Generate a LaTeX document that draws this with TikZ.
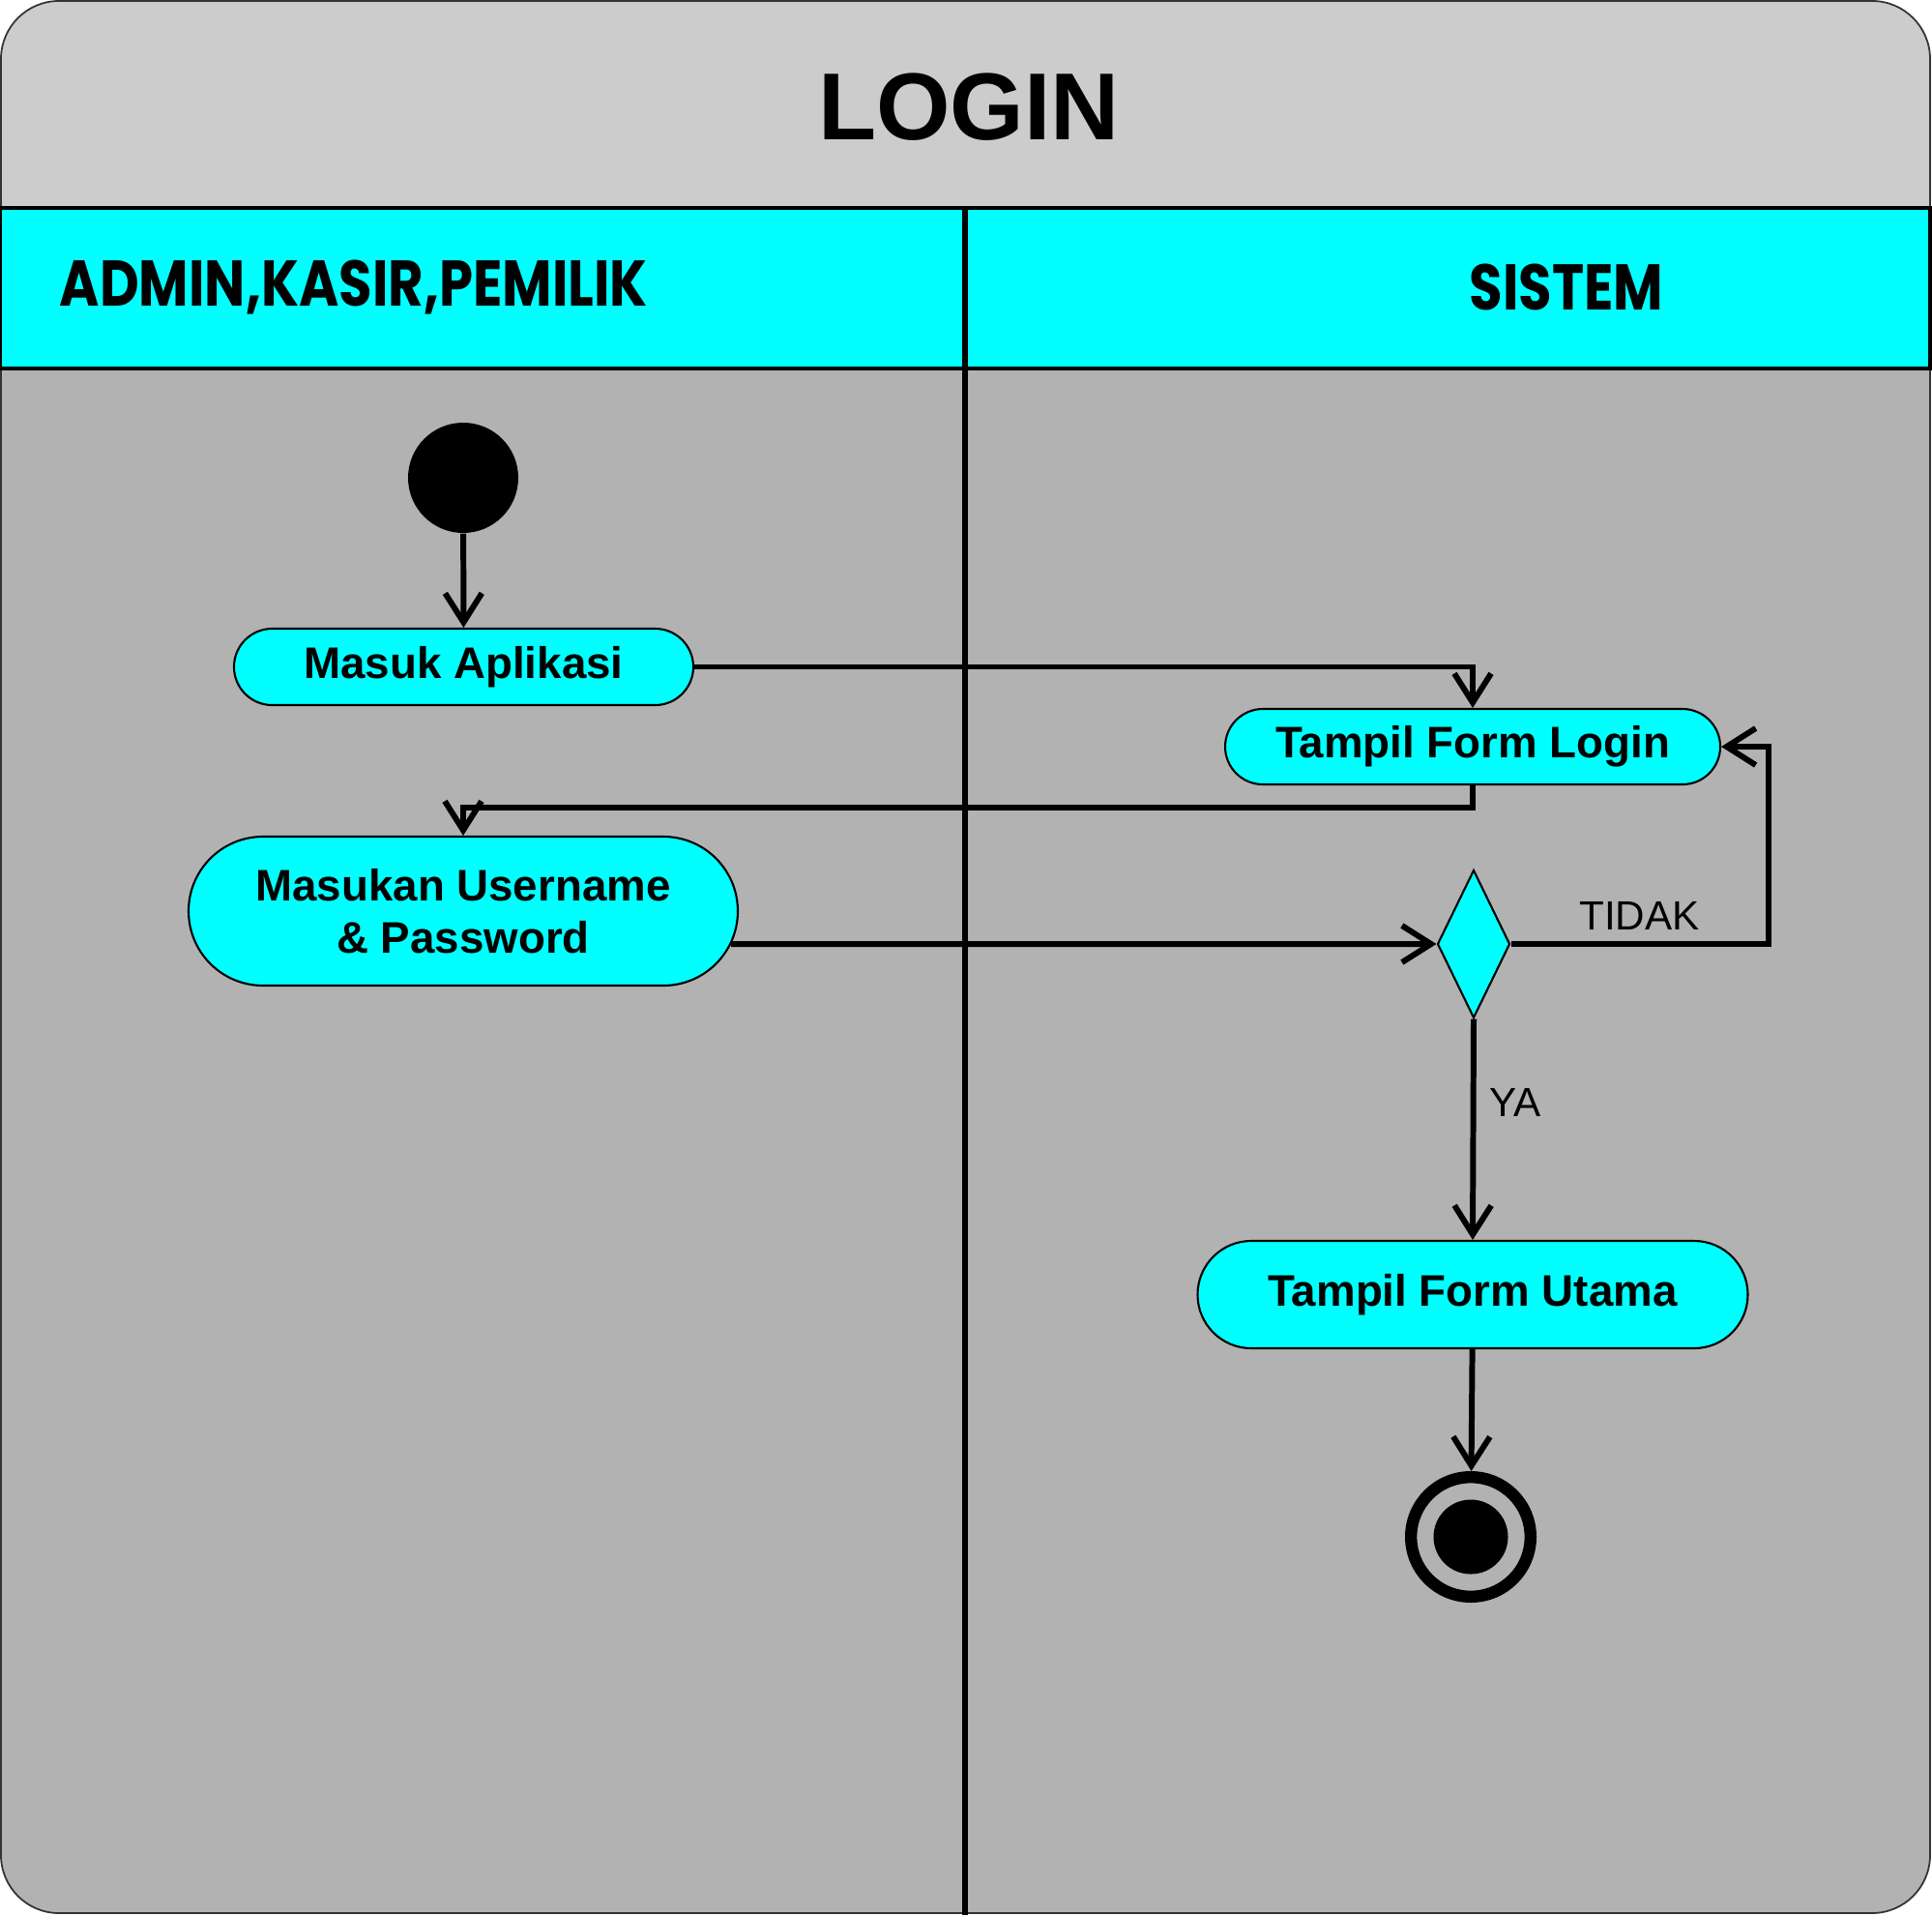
\documentclass[tikz,border=0pt]{standalone}
\usepackage{fontspec}
\setmainfont{Liberation Sans}
\newfontfamily\lanefont{Poppins}[FakeStretch=0.84]
\usepackage{tikz}
\usetikzlibrary{arrows.meta, positioning}
\usetikzlibrary{shapes.misc, shapes.geometric}

\definecolor{titlegray}{HTML}{CCCCCC}
\definecolor{lanegray}{HTML}{B2B2B2}
\definecolor{actcyan}{HTML}{00FFFF}

\tikzset{
  act/.style={rounded rectangle, draw, line width=0.6pt, fill=actcyan,
    font=\fontsize{13}{15.5}\selectfont\bfseries, align=center, inner sep=0pt},
  decision/.style={diamond, draw, line width=0.6pt, fill=actcyan,
    minimum width=0.75cm, minimum height=1.53cm, inner sep=0pt},
  initial/.style={circle, fill=black, minimum size=1.14cm, inner sep=0pt},
  final/.style={circle, draw, line width=0.124cm, minimum size=1.236cm, inner sep=0pt},
  flow/.style={line width=1.7pt, -{Straight Barb[length=3mm,width=3.8mm]}},
  lbl/.style={font=\fontsize{12}{14}\selectfont},
  lanehead/.style={font=\lanefont\bfseries\fontsize{19}{22}\selectfont, inner sep=0pt}
}

\begin{document}
\begin{tikzpicture}
\useasboundingbox (0,0) rectangle (19.98,-19.80);

% swimlane frame
\begin{scope}
  \clip[rounded corners=0.6cm] (0.01,-0.01) rectangle (19.96,-19.78);
  \fill[lanegray] (0,0) rectangle (19.98,-19.80);
  \fill[titlegray] (0,0) rectangle (19.98,-2.15);
\end{scope}
\draw[line width=0.5pt, draw=black!80, rounded corners=0.6cm] (0.01,-0.01) rectangle (19.96,-19.78);
\draw[fill=actcyan, line width=1pt] (0,-2.15) rectangle (19.96,-3.81);
\draw[line width=1.8pt] (9.98,-2.15) -- (9.98,-19.80);

\node[font=\fontsize{28}{34}\selectfont\bfseries] (title) at (10.02,-1.11) {LOGIN};
\node[lanehead, anchor=west] (actor) at (0.61,-2.97) {ADMIN,KASIR,PEMILIK};
\node[lanehead] (sistem) at (16.20,-2.97) {SISTEM};

% activities
\node[initial] (start) at (4.79,-4.94) {};
\node[act, minimum width=4.75cm, minimum height=0.79cm] (masuk) at (4.795,-6.895) {Masuk Aplikasi};
\node[act, minimum width=5.12cm, minimum height=0.78cm] (login) at (15.23,-7.72) {Tampil Form Login};
\node[act, minimum width=5.68cm, minimum height=1.54cm] (input) at (4.79,-9.42) {Masukan Username\\\& Password};
\node[decision] (dia) at (15.24,-9.76) {};
\node[act, minimum width=5.69cm, minimum height=1.11cm] (utama) at (15.23,-13.385) {Tampil Form Utama};
\node[final] (stop) at (15.21,-15.89) {};
\fill (stop.center) circle (0.385);

% flows
\draw[flow] (start) -- (masuk);
\draw[flow] (masuk.east) -| (login.north);
\draw[flow] (login.south) -- ++(0,-0.23) -| (input.north);
\draw[flow] (input.-7) -- (dia.west);
\draw[flow] (dia.east) -- node[lbl, above]{TIDAK} ++(2.66,0) |- (login.east);
\draw[flow] (dia.south) -- node[lbl, right=0.02cm, pos=0.38]{YA} (utama.north);
\draw[flow] (utama) -- (stop);
\end{tikzpicture}
\end{document}
